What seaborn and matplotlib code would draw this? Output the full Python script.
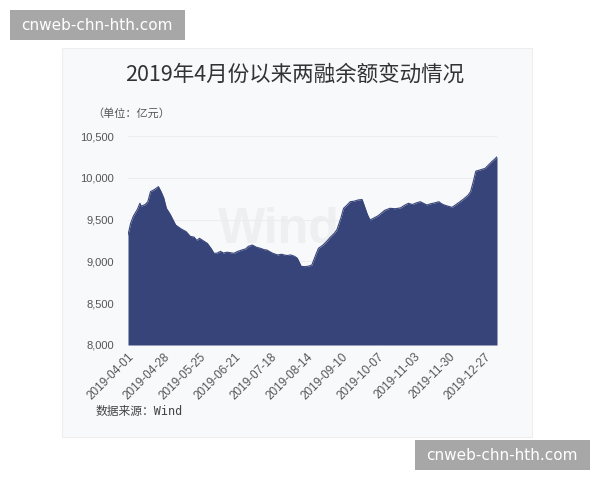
import pandas as pd
import seaborn as sns
import matplotlib.pyplot as plt
from matplotlib.patches import Rectangle
from matplotlib.ticker import FuncFormatter

# Data (两融余额, 亿元)
dates = [
    "2019-04-01", "2019-04-03", "2019-04-05", "2019-04-08", "2019-04-10", "2019-04-11",
    "2019-04-14", "2019-04-16", "2019-04-18", "2019-04-21", "2019-04-24", "2019-04-26",
    "2019-04-28", "2019-04-30", "2019-05-03", "2019-05-07", "2019-05-11", "2019-05-15",
    "2019-05-18", "2019-05-21", "2019-05-23", "2019-05-25", "2019-05-27", "2019-05-31",
    "2019-06-03", "2019-06-05", "2019-06-07", "2019-06-10", "2019-06-12", "2019-06-15",
    "2019-06-20", "2019-06-23", "2019-06-26", "2019-06-29", "2019-07-01", "2019-07-04",
    "2019-07-07", "2019-07-10", "2019-07-13", "2019-07-15", "2019-07-19", "2019-07-23",
    "2019-07-26", "2019-07-30", "2019-08-02", "2019-08-05", "2019-08-07", "2019-08-10",
    "2019-08-13", "2019-08-16", "2019-08-18", "2019-08-21", "2019-08-23", "2019-08-26",
    "2019-08-29", "2019-09-01", "2019-09-04", "2019-09-06", "2019-09-09", "2019-09-11",
    "2019-09-14", "2019-09-16", "2019-09-19", "2019-09-22", "2019-09-25", "2019-09-27",
    "2019-09-29", "2019-10-01", "2019-10-04", "2019-10-07", "2019-10-09", "2019-10-12",
    "2019-10-16", "2019-10-20", "2019-10-24", "2019-10-27", "2019-10-30", "2019-11-02",
    "2019-11-05", "2019-11-08", "2019-11-11", "2019-11-13", "2019-11-16", "2019-11-19",
    "2019-11-22", "2019-11-24", "2019-11-26", "2019-11-29", "2019-12-02", "2019-12-05",
    "2019-12-08", "2019-12-11", "2019-12-14", "2019-12-16", "2019-12-18", "2019-12-20",
    "2019-12-23", "2019-12-27", "2019-12-30", "2020-01-01", "2020-01-03", "2020-01-05",
]
balance = [
    9316, 9456, 9540, 9620, 9695, 9660,
    9680, 9714, 9834, 9860, 9894, 9834,
    9760, 9635, 9560, 9435, 9390, 9355,
    9300, 9290, 9250, 9276, 9256, 9215,
    9150, 9097, 9097, 9120, 9100, 9110,
    9097, 9120, 9136, 9150, 9180, 9196,
    9170, 9157, 9140, 9136, 9100, 9077,
    9085, 9070, 9077, 9060, 9037, 8940,
    8937, 8945, 8957, 9080, 9157, 9190,
    9236, 9290, 9336, 9380, 9520, 9635,
    9680, 9714, 9720, 9735, 9740, 9650,
    9560, 9495, 9520, 9545, 9570, 9610,
    9635, 9630, 9640, 9670, 9695, 9680,
    9700, 9714, 9690, 9675, 9690, 9700,
    9714, 9690, 9675, 9660, 9647, 9680,
    9714, 9750, 9790, 9834, 9950, 10080,
    10093, 10113, 10160, 10193, 10220, 10252,
]
tick_dates = ["2019-04-01", "2019-04-28", "2019-05-25", "2019-06-21", "2019-07-18", "2019-08-14",
              "2019-09-10", "2019-10-07", "2019-11-03", "2019-11-30", "2019-12-27"]
y_ticks = [8000, 8500, 9000, 9500, 10000, 10500]

df = pd.DataFrame({"date": pd.to_datetime(dates), "balance": balance})

sns.set_theme(style="white")
plt.rcParams["font.family"] = ["Noto Sans CJK SC", "DejaVu Sans"]

fill_color = "#37447a"
card_color = "#f8f9fb"

fig = plt.figure(figsize=(6, 4.8), dpi=100)
fig.patch.set_facecolor("white")

# light card behind the chart
fig.patches.append(Rectangle((62 / 600, 1 - 437 / 480), 470 / 600, 389 / 480,
                             transform=fig.transFigure, facecolor=card_color,
                             edgecolor="#eeeeee", lw=0.8, zorder=-5))

ax = fig.add_axes([128 / 600, 1 - 345 / 480, 369 / 600, 209 / 480])
ax.set_facecolor(card_color)

# faint "Wind" watermark, mostly hidden behind the area
ax.text(0.41, 0.55, "Wind", transform=ax.transAxes, fontsize=36, fontweight="bold",
        color="#eeeff1", ha="center", va="center", family="Liberation Sans", zorder=0)

sns.lineplot(data=df, x="date", y="balance", ax=ax, color=fill_color, lw=0.8, zorder=3)
ax.fill_between(df["date"], df["balance"], 8000, color=fill_color, lw=0, zorder=2)

ax.set_xlim(df["date"].iloc[0], df["date"].iloc[-1])
ax.set_ylim(8000, 10500)
ax.set_yticks(y_ticks)
ax.yaxis.set_major_formatter(FuncFormatter(lambda v, p: f"{int(v):,}"))
ax.set_xticks(pd.to_datetime(tick_dates))
ax.set_xticklabels(tick_dates, rotation=45, ha="right", rotation_mode="anchor")
ax.tick_params(axis="y", labelsize=8, labelcolor="#555555", length=0, pad=10)
ax.tick_params(axis="x", labelsize=8.5, labelcolor="#555555", length=0, pad=4)
for lbl in ax.get_xticklabels() + ax.get_yticklabels():
    lbl.set_family("Liberation Sans")
ax.grid(axis="y", color="#ebedf0", lw=0.8, zorder=1)
ax.set_axisbelow(True)
ax.set_xlabel("")
ax.set_ylabel("")
for s in ax.spines.values():
    s.set_visible(False)

fig.text(295 / 600, 1 - 75 / 480, "2019年4月份以来两融余额变动情况", ha="center", va="center",
         fontsize=15.5, color="#333333")
fig.text(92 / 600, 1 - 113 / 480, "（单位：亿元）", ha="left", va="center",
         fontsize=8, color="#555555")
fig.text(96 / 600, 1 - 411 / 480, "数据来源：Wind", ha="left", va="center", fontsize=8.5,
         color="#444444", family=["DejaVu Sans Mono", "Noto Sans CJK SC"])

# site watermark boxes
for (x0, y0) in [(10, 10), (415, 440)]:
    fig.patches.append(Rectangle((x0 / 600, 1 - (y0 + 30) / 480), 175 / 600, 30 / 480,
                                 transform=fig.transFigure, facecolor="#9e9e9e",
                                 edgecolor="none", alpha=0.9, zorder=5))
    fig.text((x0 + 87) / 600, 1 - (y0 + 15) / 480, "cnweb-chn-hth.com", ha="center",
             va="center", fontsize=11, color="white", family="DejaVu Sans", zorder=6)

fig.savefig("out.png", dpi=100)
